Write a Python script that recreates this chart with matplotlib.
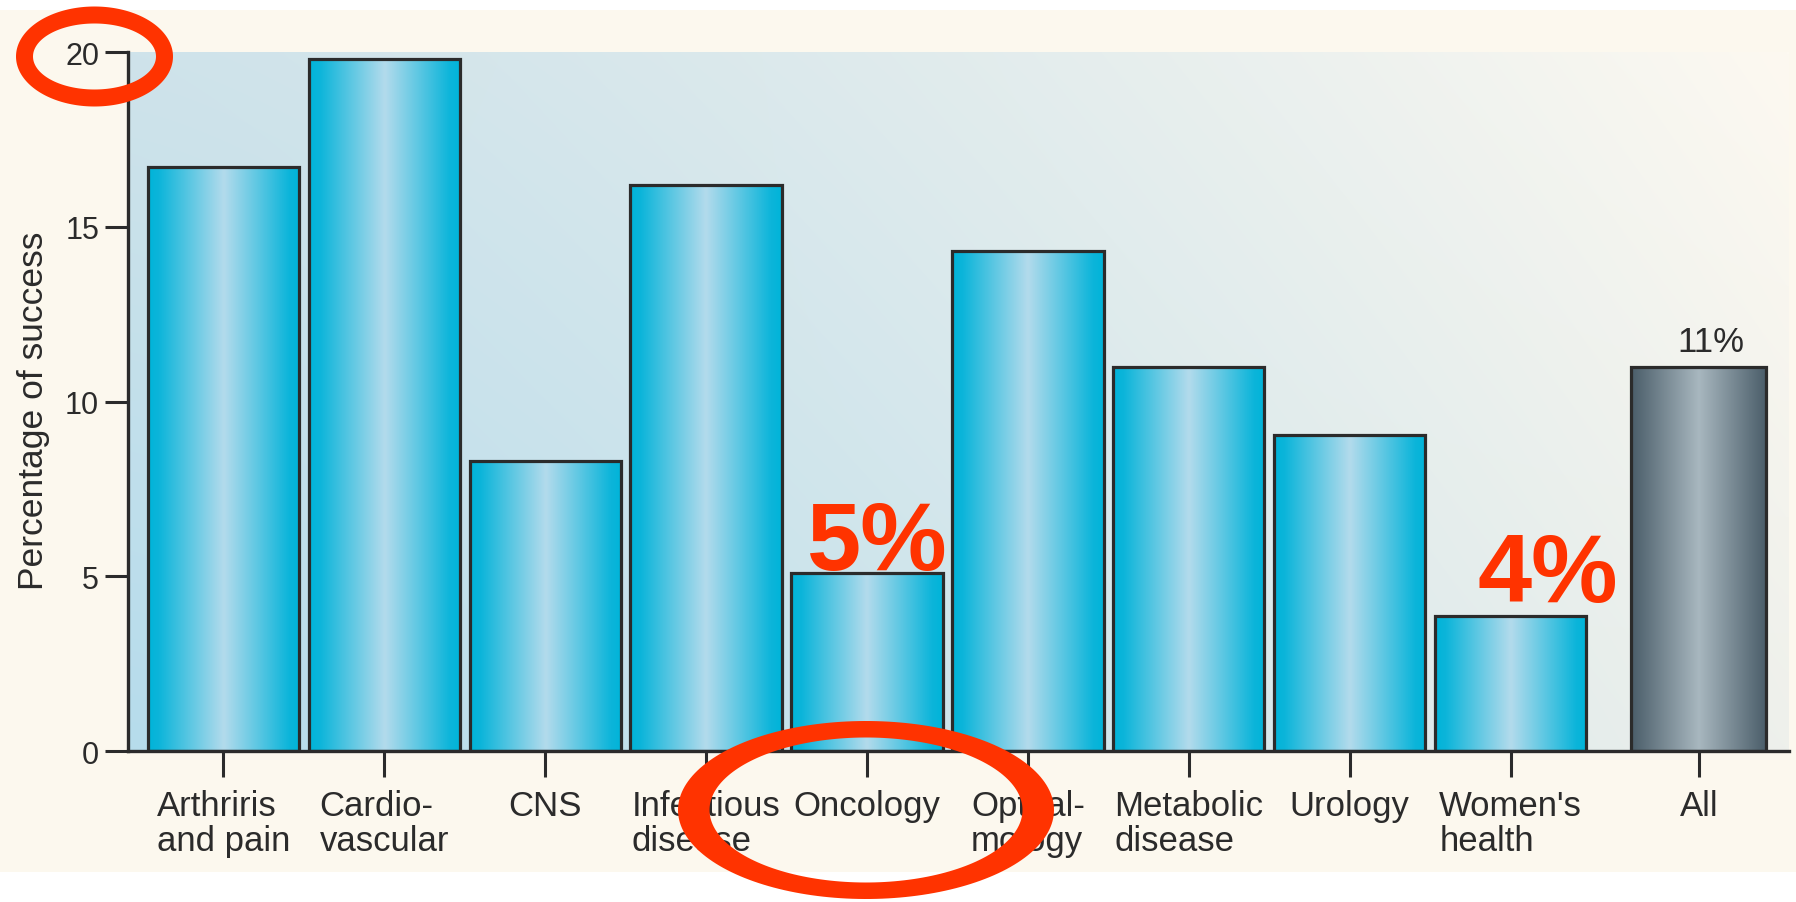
import numpy as np
import matplotlib
matplotlib.use("Agg")
import matplotlib.pyplot as plt
from matplotlib.colors import LinearSegmentedColormap, to_rgb
from matplotlib.patches import PathPatch, Rectangle
from matplotlib.path import Path

# --- dati ---
categorie = ["Arthriris\nand pain", "Cardio-\nvascular", "CNS", "Infectious\ndisease",
             "Oncology", "Opthal-\nmology", "Metabolic\ndisease", "Urology",
             "Women's\nhealth", "All"]
successo = [16.7, 19.8, 8.3, 16.2, 5.1, 14.3, 11.0, 9.05, 3.85, 11.0]
etichette_rosse = {4: "5%", 8: "4%"}
etichetta_totale = "11%"
y_ticks = [0, 5, 10, 15, 20]

plt.rcParams["font.family"] = ["Liberation Sans", "DejaVu Sans"]
SCURO = "#2B2B2B"
ROSSO = "#FF3300"

fig = plt.figure(figsize=(17.96, 9.03), dpi=100, facecolor="white")
# fascia crema dietro al grafico
fig.patches.append(Rectangle((0, 30 / 903), 1, 862 / 903, transform=fig.transFigure,
                             facecolor="#FCF8EE", edgecolor="none", zorder=-5))

ax = fig.add_axes([128 / 1796, 1 - 752 / 903, (1789 - 128) / 1796, (752 - 53) / 903])
ax.set_facecolor("none")

# sfondo sfumato dell'area del grafico
nx, ny = 400, 200
gx = np.linspace(0, 1, nx) ** 1.3
gy = np.linspace(0, 1, ny)
X, Y = np.meshgrid(gx, gy)
tl, tr = np.array(to_rgb("#CFE3EA")), np.array(to_rgb("#FDF9F1"))
bl, br = np.array(to_rgb("#B6DCEC")), np.array(to_rgb("#EEF0EB"))
sfondo = (tl * ((1 - X) * (1 - Y))[..., None] + tr * (X * (1 - Y))[..., None]
          + bl * ((1 - X) * Y)[..., None] + br * (X * Y)[..., None])
ax.imshow(sfondo, extent=(0, 1, 0, 1), transform=ax.transAxes, aspect="auto",
          origin="upper", zorder=0, interpolation="bilinear")

# posizioni: "All" leggermente staccato
posizioni = np.append(np.arange(len(categorie) - 1), len(categorie) - 1 + 0.17)
larghezze = [0.94] * (len(categorie) - 1) + [0.84]

ciano = LinearSegmentedColormap.from_list(
    "ciano", [(0, "#00B4D9"), (0.07, "#0CB5DA"), (0.5, "#B3DBEC"), (0.93, "#0CB5DA"), (1, "#00B4D9")])
grigio = LinearSegmentedColormap.from_list(
    "grigio", [(0, "#4A5D69"), (0.5, "#A8B7BF"), (1, "#4A5D69")])
rampa = np.linspace(0, 1, 256)[None, :]

for i, (x, v, w) in enumerate(zip(posizioni, successo, larghezze)):
    cmap = grigio if i == len(categorie) - 1 else ciano
    ax.imshow(rampa, cmap=cmap, extent=(x - w / 2, x + w / 2, 0, v), aspect="auto",
              zorder=2, interpolation="bilinear")

ax.bar(posizioni, successo, width=larghezze, facecolor="none", edgecolor=SCURO,
       linewidth=2.3, zorder=3)

ax.set_xlim(-0.593, 9.73)
ax.set_ylim(0, 20)

for lato in ["top", "right"]:
    ax.spines[lato].set_visible(False)
for lato in ["left", "bottom"]:
    ax.spines[lato].set_linewidth(2.4)
    ax.spines[lato].set_color(SCURO)
    ax.spines[lato].set_zorder(4)

ax.set_xticks(posizioni, categorie)
ax.set_yticks(y_ticks)
ax.tick_params(axis="x", length=18.7, width=2.2, pad=9, labelsize=25, color=SCURO, labelcolor=SCURO)
ax.tick_params(axis="y", length=16.5, width=2.2, pad=4.3, labelsize=22, color=SCURO, labelcolor=SCURO)
for lbl in ax.get_xticklabels():
    lbl.set_multialignment("left")
    lbl.set_linespacing(1.05)

ax.set_ylabel("Percentage of success", fontsize=25.5, color=SCURO)
ax.yaxis.set_label_coords(-0.047, 0.488)

# etichette percentuali
offset = {4: (7.2, 3), 8: (26.6, 11)}
for i, testo in etichette_rosse.items():
    ax.annotate(testo, xy=(posizioni[i], successo[i]), xytext=offset[i], textcoords="offset points",
                ha="center", va="baseline", fontsize=70, fontweight="bold", color=ROSSO, zorder=5)
ax.annotate(etichetta_totale, xy=(posizioni[-1], successo[-1]), xytext=(8.6, 11.5),
            textcoords="offset points", ha="center", va="baseline", fontsize=25, color=SCURO)

# ellissi rosse di evidenziazione (in pixel della figura)
ov = fig.add_axes([0, 0, 1, 1], zorder=10)
ov.set_xlim(0, 1796)
ov.set_ylim(903, 0)
ov.axis("off")


def anello(cx, cy, ow, oh, iw, ih, n=200):
    t = np.linspace(0, 2 * np.pi, n)
    esterno = np.column_stack([cx + ow / 2 * np.cos(t), cy + oh / 2 * np.sin(t)])
    interno = np.column_stack([cx + iw / 2 * np.cos(t[::-1]), cy + ih / 2 * np.sin(t[::-1])])
    codici = ([Path.MOVETO] + [Path.LINETO] * (n - 2) + [Path.CLOSEPOLY]) * 2
    return PathPatch(Path(np.vstack([esterno, interno]), codici), facecolor=ROSSO, edgecolor="none")


ov.add_patch(anello(94.5, 57.5, 157, 100, 123, 66))
ov.add_patch(anello(866, 811, 376, 178, 313, 145))

fig.savefig("out.png", dpi=100)
